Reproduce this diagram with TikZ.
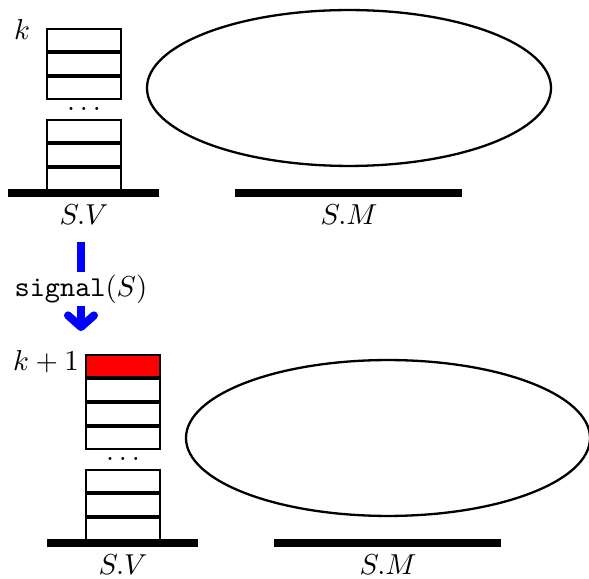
\documentclass[tikz,border=0pt]{standalone}
\usetikzlibrary{shapes.geometric,arrows.meta}
\begin{document}
\begin{tikzpicture}[x=0.347pt,y=-0.347pt,
  cell/.style={draw,line width=0.8pt,minimum width=25.7pt,minimum height=7.63pt,inner sep=0pt,outer sep=0pt},
  redcell/.style={cell,fill=red},
  bar/.style={line width=2.8pt,line cap=butt},
  blob/.style={draw,ellipse,line width=0.8pt,minimum width=140.2pt,minimum height=54.1pt,inner sep=0pt},
  sig/.style={line width=2.8pt,blue,-{Straight Barb[round,length=4pt,width=9pt]}}
]
\useasboundingbox (0,0) rectangle (589,579);
% ---- top state ----
\node[cell] (t1) at (84,40) {};
\node[cell] (t2) at (84,64) {};
\node[cell] (t3) at (84,88) {};
\node (td) at (84,109) {$\ldots$};
\node[cell] (t4) at (84,131) {};
\node[cell] (t5) at (84,155) {};
\node[cell] (t6) at (84,179) {};
\node (tk) at (22,29) {$k$};
\coordinate (tv1) at (8,193);
\coordinate (tv2) at (159,193);
\draw[bar] (tv1) -- (tv2);
\node (tvl) at (84,215) {$S.V$};
\node[blob] (te) at (349,88) {};
\coordinate (tm1) at (235,193);
\coordinate (tm2) at (462,193);
\draw[bar] (tm1) -- (tm2);
\node (tml) at (349,215) {$S.M$};
% ---- arrow ----
\coordinate (a1) at (81,242);
\coordinate (a2) at (81,331);
\draw[sig] (a1) -- (a2);
\node[fill=white,inner xsep=2pt,inner ysep=0.8pt] (sl) at (81,289) {\texttt{signal}$(S)$};
% ---- bottom state ----
\node[redcell] (b0) at (123,366) {};
\node[cell] (b1) at (123,390) {};
\node[cell] (b2) at (123,414) {};
\node[cell] (b3) at (123,438) {};
\node (bd) at (123,459) {$\ldots$};
\node[cell] (b4) at (123,481) {};
\node[cell] (b5) at (123,505) {};
\node[cell] (b6) at (123,529) {};
\node (bk) at (46,362) {$k+1$};
\coordinate (bv1) at (47,543);
\coordinate (bv2) at (198,543);
\draw[bar] (bv1) -- (bv2);
\node (bvl) at (123,565) {$S.V$};
\node[blob] (be) at (388,438) {};
\coordinate (bm1) at (274,543);
\coordinate (bm2) at (501,543);
\draw[bar] (bm1) -- (bm2);
\node (bml) at (388,565) {$S.M$};
\end{tikzpicture}
\end{document}
